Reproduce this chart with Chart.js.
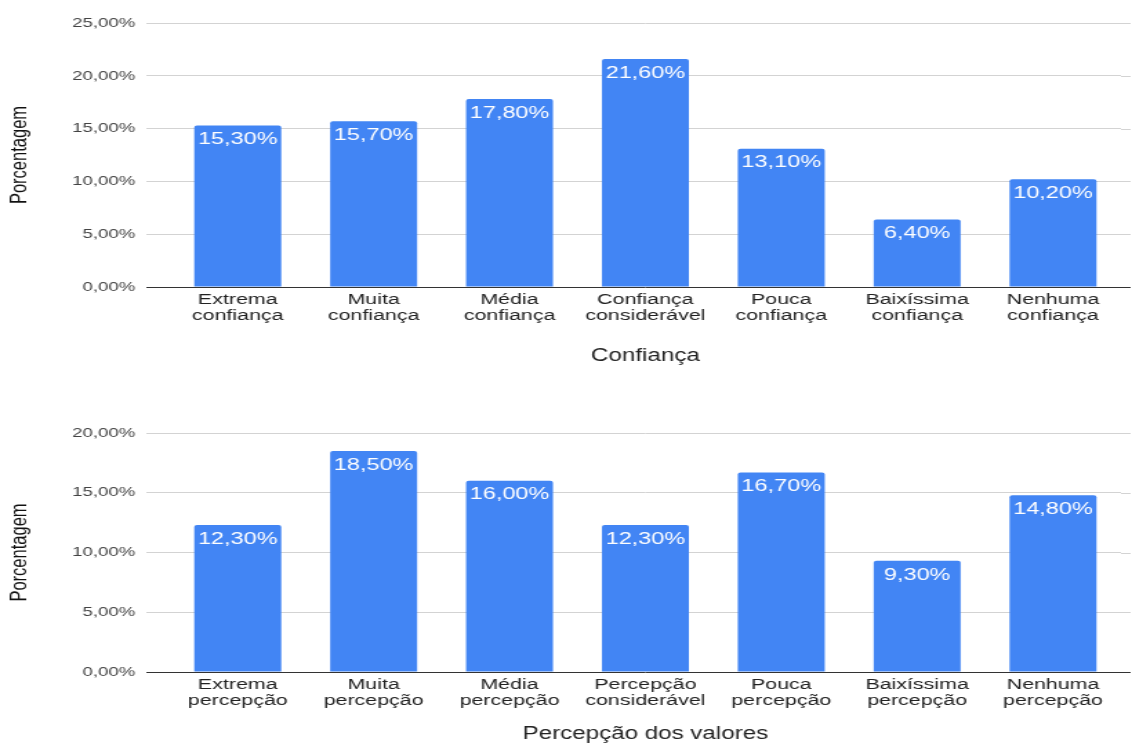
<!DOCTYPE html>
<html>
<head>
<meta charset="utf-8">
<script src="https://cdn.jsdelivr.net/npm/chart.js@4.4.1/dist/chart.umd.min.js"></script>
<style>
html, body { margin: 0; padding: 0; background: #fff; overflow: hidden; width: 1132px; height: 743px; }
/* the reference is stretched horizontally, so draw narrow and scale the canvas in x */
.box { position: absolute; left: 0; width: 820px; transform: scaleX(1.3805); transform-origin: 0 0; }
canvas { display: block; }
</style>
</head>
<body>
<div class="box" style="top:0;height:380px"><canvas id="chartConfianca" width="820" height="380"></canvas></div>
<div class="box" style="top:380px;height:365px"><canvas id="chartPercepcao" width="820" height="365"></canvas></div>
<script>
"use strict";

var confiancaLabels = [
    ["Extrema", "confiança"], ["Muita", "confiança"], ["Média", "confiança"],
    ["Confiança", "considerável"], ["Pouca", "confiança"], ["Baixíssima", "confiança"],
    ["Nenhuma", "confiança"]
];
var confiancaValues = [15.3, 15.7, 17.8, 21.6, 13.1, 6.4, 10.2];
var confiancaMax = 25;

var percepcaoLabels = [
    ["Extrema", "percepção"], ["Muita", "percepção"], ["Média", "percepção"],
    ["Percepção", "considerável"], ["Pouca", "percepção"], ["Baixíssima", "percepção"],
    ["Nenhuma", "percepção"]
];
var percepcaoValues = [12.3, 18.5, 16.0, 12.3, 16.7, 9.3, 14.8];
var percepcaoMax = 20;

var FONT = '"Liberation Sans", Arial, Helvetica, sans-serif';
var BLUE = '#4285F4';

function pct(v) {
    return v.toFixed(2).replace('.', ',') + '%';
}

// white value labels inside the top of each bar
var barLabels = {
    id: 'barLabels',
    afterDatasetsDraw: function (chart) {
        var ctx = chart.ctx;
        var meta = chart.getDatasetMeta(0);
        var data = chart.data.datasets[0].data;
        ctx.save();
        ctx.fillStyle = '#ffffff';
        ctx.font = '17px ' + FONT;
        ctx.textAlign = 'center';
        ctx.textBaseline = 'middle';
        meta.data.forEach(function (bar, i) {
            ctx.fillText(pct(data[i]), bar.x, bar.y + 14);
        });
        ctx.restore();
    }
};

// gridlines run a little past the last bar on the right
var gridTail = {
    id: 'gridTail',
    beforeDatasetsDraw: function (chart) {
        var ctx = chart.ctx;
        var y = chart.scales.y;
        var right = chart.chartArea.right;
        ctx.save();
        ctx.lineWidth = 1;
        y.ticks.forEach(function (t) {
            var py = Math.round(y.getPixelForValue(t.value)) + 0.5;
            ctx.strokeStyle = t.value === 0 ? '#333333' : '#d3d3d3';
            ctx.beginPath();
            ctx.moveTo(right, py);
            ctx.lineTo(right + 7, py);
            ctx.stroke();
        });
        ctx.restore();
    }
};

function makeChart(id, labels, values, yMax, xTitle, topPad, xHeight, titlePad) {
    return new Chart(document.getElementById(id), {
        type: 'bar',
        data: {
            labels: labels,
            datasets: [{
                data: values,
                backgroundColor: BLUE,
                borderRadius: 2,
                borderSkipped: 'bottom',
                categoryPercentage: 1,
                barPercentage: 0.64
            }]
        },
        options: {
            responsive: false,
            animation: false,
            devicePixelRatio: 1,
            layout: { padding: { top: topPad, right: 8, bottom: 0, left: 0 } },
            plugins: { legend: { display: false }, tooltip: { enabled: false } },
            scales: {
                x: {
                    grid: { display: false, drawTicks: false },
                    border: { display: false },
                    ticks: {
                        padding: 5,
                        maxRotation: 0,
                        autoSkip: false,
                        color: '#222222',
                        font: { family: FONT, size: 15.5, lineHeight: 1.03 }
                    },
                    title: {
                        display: true,
                        text: xTitle,
                        color: '#222222',
                        font: { family: FONT, size: 17.5 },
                        padding: { top: 0, bottom: titlePad }
                    },
                    afterFit: function (scale) { scale.height = xHeight; }
                },
                y: {
                    min: 0,
                    max: yMax,
                    ticks: {
                        stepSize: 5,
                        padding: 8,
                        color: '#444444',
                        font: { family: FONT, size: 13.5 },
                        callback: function (v) { return pct(v); }
                    },
                    grid: {
                        drawTicks: true,
                        tickLength: 17,
                        lineWidth: 1,
                        color: function (c) { return c.tick && c.tick.value === 0 ? '#333333' : '#d3d3d3'; }
                    },
                    border: { display: false },
                    title: {
                        display: true,
                        text: 'Porcentagem',
                        color: '#111111',
                        font: { family: FONT, size: 16.5 },
                        padding: { top: 5, bottom: 0 }
                    },
                    afterFit: function (scale) { scale.width = 123; }
                }
            }
        },
        plugins: [gridTail, barLabels]
    });
}

makeChart('chartConfianca', confiancaLabels, confiancaValues, confiancaMax, 'Confiança', 23, 93, 13.5);
makeChart('chartPercepcao', percepcaoLabels, percepcaoValues, percepcaoMax, 'Percepção dos valores', 53, 73, 0);
</script>
</body>
</html>
